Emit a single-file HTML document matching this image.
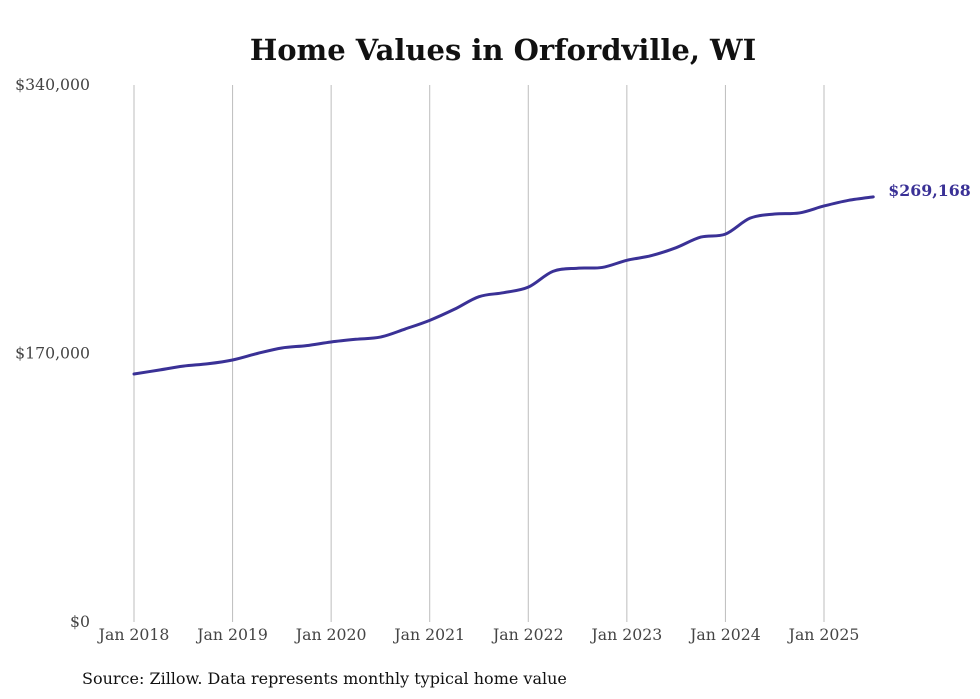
<!DOCTYPE html>
<html>
<head>
<meta charset="utf-8">
<style>
  html, body { margin: 0; padding: 0; background: #ffffff; }
  body { width: 980px; height: 699px; overflow: hidden; font-family: "DejaVu Serif", serif; }
  svg { display: block; }
</style>
</head>
<body>
<svg id="chart" width="980" height="699" viewBox="0 0 980 699" xmlns="http://www.w3.org/2000/svg">
  <text x="503" y="60" text-anchor="middle" font-family="DejaVu Serif, serif" font-weight="bold" font-size="29" fill="#111">Home Values in Orfordville, WI</text>
  <g id="grid"></g>
  <g id="yaxis"></g>
  <g id="xaxis"></g>
  <g id="series"></g>
  <text x="82" y="684" font-family="DejaVu Serif, serif" font-size="16" fill="#111">Source: Zillow. Data represents monthly typical home value</text>
</svg>
<script>
const yTicks = [0, 170000, 340000];
const yTickLabels = ["$0", "$170,000", "$340,000"];
const xTickYears = [2018, 2019, 2020, 2021, 2022, 2023, 2024, 2025];
const xTickLabels = ["Jan 2018", "Jan 2019", "Jan 2020", "Jan 2021", "Jan 2022", "Jan 2023", "Jan 2024", "Jan 2025"];
const dates = [
  2018.00, 2018.25, 2018.50, 2018.75,
  2019.00, 2019.25, 2019.50, 2019.75,
  2020.00, 2020.25, 2020.50, 2020.75,
  2021.00, 2021.25, 2021.50, 2021.75,
  2022.00, 2022.25, 2022.50, 2022.75,
  2023.00, 2023.25, 2023.50, 2023.75,
  2024.00, 2024.25, 2024.50, 2024.75,
  2025.00, 2025.25, 2025.50
];
const values = [
  157000, 159500, 162000, 163500,
  165900, 170000, 173500, 175000,
  177300, 179000, 180400, 185500,
  191000, 198000, 206000, 208500,
  212000, 222000, 224000, 224500,
  229000, 232000, 237000, 243700,
  245600, 255700, 258300, 259000,
  263400, 267000, 269168
];

const NS = "http://www.w3.org/2000/svg";
const x = t => 134 + (t - 2018) * 98.57;
const y = v => 622 - v / 340000 * 537;
function mk(tag, attrs, parent) {
  const e = document.createElementNS(NS, tag);
  for (const k in attrs) e.setAttribute(k, attrs[k]);
  parent.appendChild(e);
  return e;
}
const grid = document.getElementById('grid');
const xa = document.getElementById('xaxis');
const ya = document.getElementById('yaxis');
const ser = document.getElementById('series');

xTickYears.forEach((yr, i) => {
  const l = mk('line', {x1: x(yr), x2: x(yr), y1: 85, y2: 622, stroke: '#bdbdbd', 'stroke-width': 1}, grid);
  
  
  const t = mk('text', {x: x(yr), y: 640, 'text-anchor': 'middle', 'font-size': 15.7, fill: '#444', 'font-family': 'DejaVu Serif, serif'}, xa);
  t.textContent = xTickLabels[i];
  
  
});
yTicks.forEach((v, i) => {
  const t = mk('text', {x: 90, y: y(v) + 5, 'text-anchor': 'end', 'font-size': 15.7, fill: '#444', 'font-family': 'DejaVu Serif, serif'}, ya);
  t.textContent = yTickLabels[i];
  
  
});

const pts = dates.map((d, i) => [x(d), y(values[i])]);
let dstr = 'M' + pts[0][0] + ',' + pts[0][1];
for (let i = 0; i < pts.length - 1; i++) {
  const p0 = pts[i - 1] || pts[i], p1 = pts[i], p2 = pts[i + 1], p3 = pts[i + 2] || p2;
  const c1 = [p1[0] + (p2[0] - p0[0]) / 6, p1[1] + (p2[1] - p0[1]) / 6];
  const c2 = [p2[0] - (p3[0] - p1[0]) / 6, p2[1] - (p3[1] - p1[1]) / 6];
  dstr += ' C' + c1 + ' ' + c2 + ' ' + p2;
}
const line = mk('path', {d: dstr, fill: 'none', stroke: '#3a3196', 'stroke-width': 3, 'stroke-linejoin': 'round', 'stroke-linecap': 'round'}, ser);



const last = pts[pts.length - 1];
const lbl = mk('text', {x: last[0] + 15, y: last[1] - 1, 'font-size': 15.8, 'font-weight': 'bold', fill: '#3a3196', 'font-family': 'DejaVu Serif, serif'}, ser);
lbl.textContent = '$' + values[values.length - 1].toLocaleString('en-US');


</script>
</body>
</html>
